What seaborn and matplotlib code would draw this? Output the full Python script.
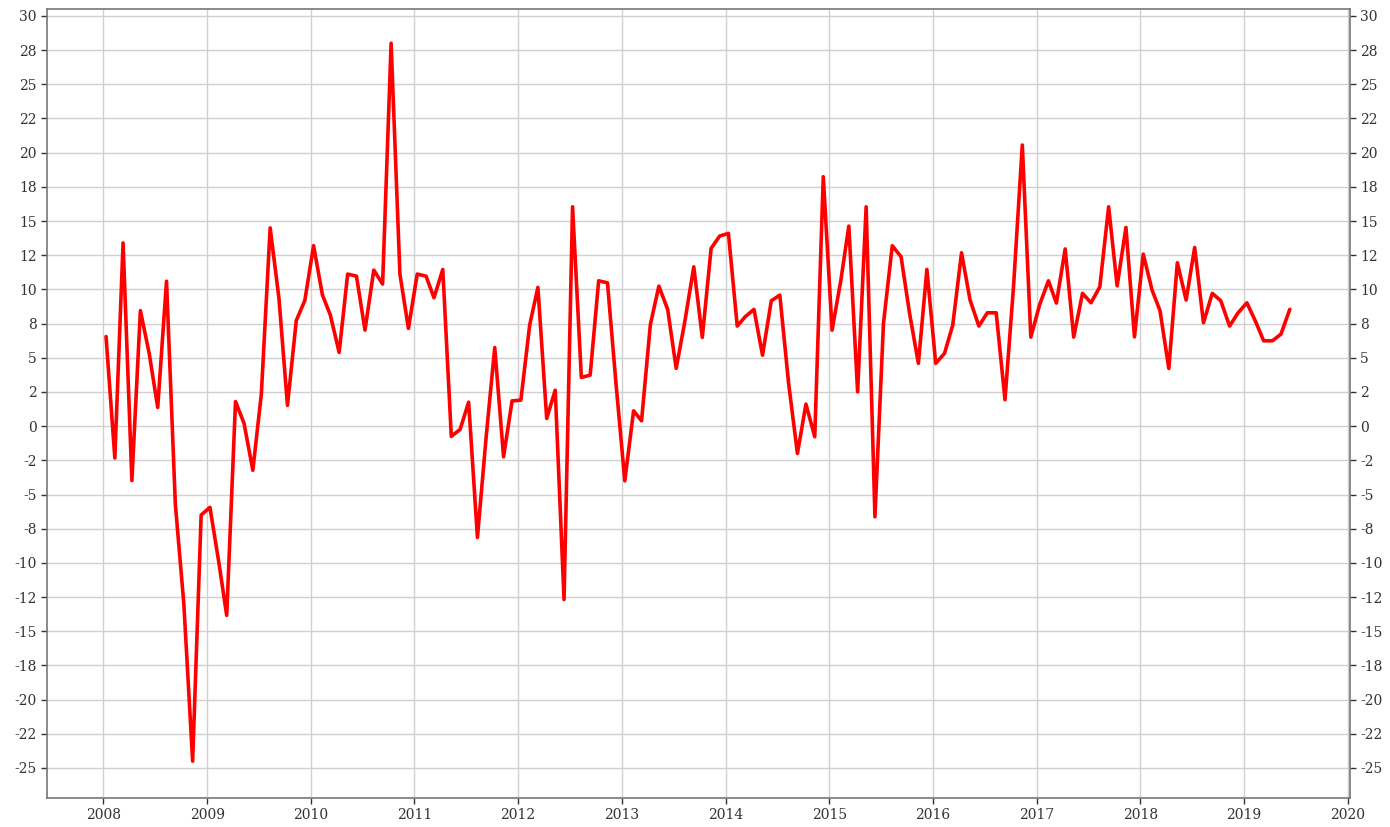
import pandas as pd
import matplotlib
matplotlib.use('Agg')
import matplotlib.pyplot as plt
import matplotlib.dates as mdates
from matplotlib.ticker import MultipleLocator, FormatStrFormatter
import seaborn as sns

# monthly values, Jan 2008 .. Jun 2019 (points sit a little after month start)
start_day = '2008-01-11'
values = [
    6.55, -2.33, 13.4, -3.98, 8.45, 5.32, 1.37, 10.6, -5.68, -13.0, -24.5, -6.5,
    -5.94, -9.93, -13.84, 1.8, 0.21, -3.23, 2.36, 14.5, 9.34, 1.52, 7.72, 9.18,
    13.2, 9.6, 8.12, 5.39, 11.12, 10.97, 7.02, 11.41, 10.39, 28.0, 11.12, 7.15,
    11.12, 10.97, 9.39, 11.46, -0.75, -0.24, 1.75, -8.14, -0.73, 5.75, -2.24, 1.85,
    1.9, 7.39, 10.15, 0.56, 2.63, -12.68, 16.04, 3.56, 3.73, 10.63, 10.48, 3.12,
    -4.0, 1.12, 0.39, 7.42, 10.24, 8.54, 4.22, 7.72, 11.65, 6.49, 13.0, 13.9,
    14.1, 7.32, 8.0, 8.54, 5.19, 9.17, 9.58, 3.12, -2.0, 1.61, -0.78, 18.24,
    7.02, 10.68, 14.63, 2.51, 16.04, -6.63, 7.51, 13.19, 12.39, 8.24, 4.59, 11.46,
    4.59, 5.32, 7.39, 12.68, 9.22, 7.32, 8.29, 8.29, 1.93, 10.19, 20.56, 6.51,
    8.88, 10.63, 9.0, 12.96, 6.51, 9.71, 9.02, 10.19, 16.04, 10.26, 14.53, 6.53,
    12.58, 9.95, 8.44, 4.22, 11.95, 9.22, 13.07, 7.56, 9.71, 9.17, 7.32, 8.29,
    9.02, 7.63, 6.24, 6.24, 6.73, 8.54,
]
dates = pd.date_range('2008-01-01', periods=len(values), freq='MS') + (pd.Timestamp(start_day) - pd.Timestamp('2008-01-01'))
df = pd.DataFrame({'date': dates, 'value': values})

sns.set_theme(style='whitegrid')
plt.rcParams['font.family'] = ['DejaVu Serif', 'DejaVu Sans']

fig = plt.figure(figsize=(13.9, 8.27), dpi=100)
ax = fig.add_axes([0.034, 0.035, 0.937, 0.954])

sns.lineplot(data=df, x='date', y='value', color='red', linewidth=2.6, ax=ax)

ax.set_xlim(pd.Timestamp('2007-06-18'), pd.Timestamp('2020-01-08'))
ax.set_ylim(-27.2, 30.5)
ax.yaxis.set_major_locator(MultipleLocator(2.5))
ax.yaxis.set_major_formatter(FormatStrFormatter('%.0f'))
ax.xaxis.set_major_locator(mdates.YearLocator())
ax.xaxis.set_major_formatter(mdates.DateFormatter('%Y'))

ax.set_xlabel('')
ax.set_ylabel('')
ax.grid(True, color='#d0d0d0', linewidth=1.0)
ax.set_facecolor('white')
for s in ax.spines.values():
    s.set_color('#777777')
    s.set_linewidth(1.2)

ax.tick_params(axis='both', which='major', labelsize=10, colors='#333333',
               length=4, width=1, direction='out')
ax.tick_params(axis='y', left=True, right=True, labelleft=True, labelright=True)
ax.tick_params(axis='x', bottom=True)
for t in ax.get_xticklines() + ax.get_yticklines():
    t.set_color('#777777')

fig.savefig('out.png', dpi=100)
